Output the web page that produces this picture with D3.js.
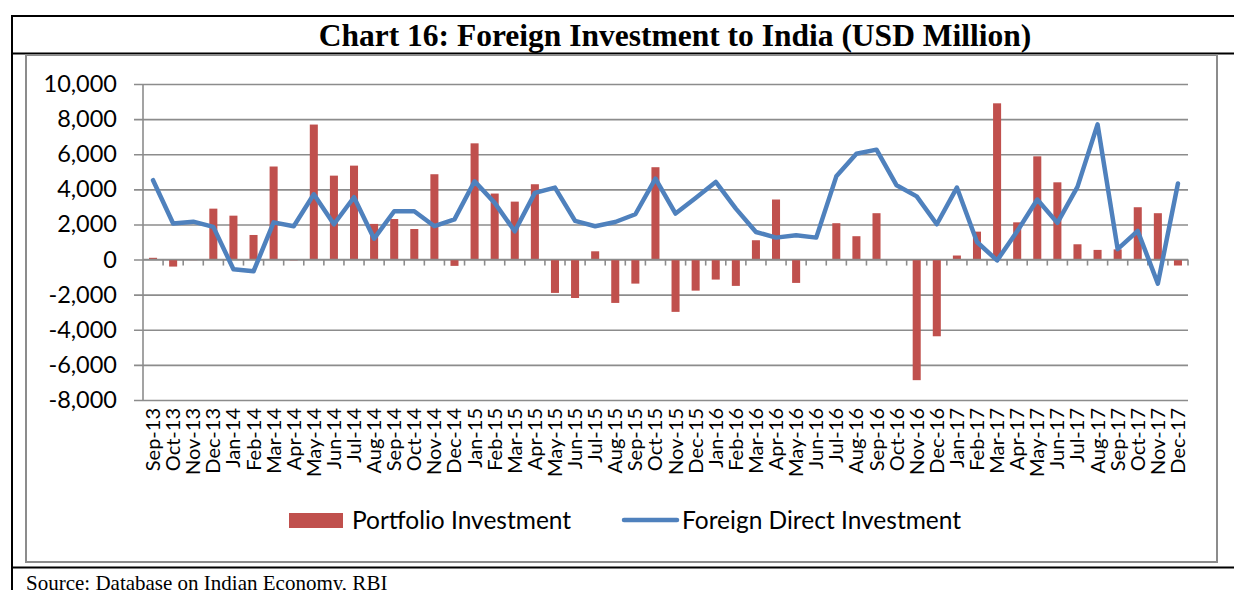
<!DOCTYPE html>
<html>
<head>
<meta charset="utf-8">
<script src="https://cdn.jsdelivr.net/npm/d3@7"></script>
<style>
  body { margin: 0; background: #fff; }
  svg { display: block; }
</style>
</head>
<body>
<div id="chart"></div>
<script>
var svgWidth = 1234;
var svgHeight = 590;

var months = [
  "Sep-13","Oct-13","Nov-13","Dec-13","Jan-14","Feb-14","Mar-14","Apr-14","May-14","Jun-14",
  "Jul-14","Aug-14","Sep-14","Oct-14","Nov-14","Dec-14","Jan-15","Feb-15","Mar-15","Apr-15",
  "May-15","Jun-15","Jul-15","Aug-15","Sep-15","Oct-15","Nov-15","Dec-15","Jan-16","Feb-16",
  "Mar-16","Apr-16","May-16","Jun-16","Jul-16","Aug-16","Sep-16","Oct-16","Nov-16","Dec-16",
  "Jan-17","Feb-17","Mar-17","Apr-17","May-17","Jun-17","Jul-17","Aug-17","Sep-17","Oct-17",
  "Nov-17","Dec-17"
];

// Portfolio Investment (bars)
var portfolio = [
  100, -400, -30, 2900, 2500, 1400, 5300, -40, 7690, 4780,
  5350, 2030, 2310, 1740, 4860, -360, 6620, 3760, 3300, 4290,
  -1900, -2190, 470, -2470, -1370, 5260, -2980, -1770, -1140, -1500,
  1100, 3420, -1330, 0, 2070, 1330, 2640, 0, -6870, -4370,
  230, 1590, 8900, 2120, 5880, 4400, 870, 550, 580, 2980,
  2640, -340
];

// Foreign Direct Investment (line)
var fdi = [
  4520, 2050, 2160, 1860, -550, -670, 2120, 1900, 3720, 2010,
  3550, 1190, 2750, 2750, 1900, 2290, 4460, 3230, 1610, 3800,
  4100, 2200, 1900, 2140, 2580, 4610, 2620, 3510, 4420, 2900,
  1570, 1250, 1380, 1250, 4740, 6030, 6260, 4230, 3600, 2010,
  4100, 1000, -50, 1610, 3420, 2090, 4140, 7700, 590, 1630,
  -1370, 4330
];

var yTicks = [-8000, -6000, -4000, -2000, 0, 2000, 4000, 6000, 8000, 10000];

var seriesNames = ["Portfolio Investment", "Foreign Direct Investment"];
var barColor = "#c0504d";
var lineColor = "#4f81bd";
var gridColor = "#8c8c8c";

var plot = { left: 143, right: 1188, top: 84, bottom: 400 };

var svg = d3.select("#chart")
  .append("svg")
  .attr("width", svgWidth)
  .attr("height", svgHeight);

// page frame (black lines of the table cell)
var frame = svg.append("g")
  .attr("stroke", "#000")
  .attr("stroke-width", 2);
frame.append("line").attr("x1", 12).attr("x2", svgWidth).attr("y1", 16).attr("y2", 16);
frame.append("line").attr("x1", 12).attr("x2", svgWidth).attr("y1", 53.5).attr("y2", 53.5);
frame.append("line").attr("x1", 12).attr("x2", svgWidth).attr("y1", 567.5).attr("y2", 567.5);
frame.append("line").attr("x1", 12).attr("x2", 12).attr("y1", 15).attr("y2", svgHeight);

svg.append("text")
  .attr("x", 675)
  .attr("y", 46)
  .attr("text-anchor", "middle")
  .style("font-family", "'Liberation Serif', 'Times New Roman', serif")
  .style("font-weight", "bold")
  .style("font-size", "31.5px")
  .text("Chart 16: Foreign Investment to India (USD Million)");

svg.append("text")
  .attr("x", 26)
  .attr("y", 590)
  .style("font-family", "'Liberation Serif', 'Times New Roman', serif")
  .style("font-size", "21px")
  .text("Source: Database on Indian Economy, RBI");

// chart area box
svg.append("rect")
  .attr("x", 26)
  .attr("y", 55)
  .attr("width", 1191)
  .attr("height", 507)
  .attr("fill", "#fff")
  .attr("stroke", gridColor)
  .attr("stroke-width", 2);

var xScale = d3.scaleBand()
  .domain(months)
  .range([plot.left, plot.right])
  .padding(0);

var yScale = d3.scaleLinear()
  .domain([-8000, 10000])
  .range([plot.bottom, plot.top]);

var fmt = d3.format(",");

// gridlines + y axis
var leftAxis = d3.axisLeft(yScale)
  .tickValues(yTicks)
  .tickSize(-(plot.right - plot.left) - 9)
  .tickPadding(17)
  .tickFormat(d => fmt(d).replace("\u2212", "-"));

var yAxis = svg.append("g")
  .attr("transform", `translate(${plot.left - 9}, 0)`)
  .call(leftAxis);

yAxis.select(".domain").remove();
yAxis.selectAll(".tick line")
  .attr("stroke", gridColor)
  .attr("stroke-width", 1.6);
yAxis.selectAll(".tick text")
  .style("font-family", "Lato, 'Open Sans', sans-serif")
  .style("font-size", "23.5px")
  .attr("fill", "#000");

svg.append("line")
  .attr("x1", plot.left).attr("x2", plot.left)
  .attr("y1", plot.top).attr("y2", plot.bottom)
  .attr("stroke", gridColor)
  .attr("stroke-width", 1.6);

// bars
var barW = xScale.bandwidth() * 0.4;
svg.append("g")
  .selectAll("rect")
  .data(portfolio)
  .enter()
  .append("rect")
  .attr("x", (d, i) => xScale(months[i]) + (xScale.bandwidth() - barW) / 2)
  .attr("y", d => yScale(Math.max(0, d)))
  .attr("width", barW)
  .attr("height", d => Math.abs(yScale(d) - yScale(0)))
  .attr("fill", barColor);

// x axis at zero with tick marks at category boundaries
var zeroY = yScale(0);
svg.append("line")
  .attr("x1", plot.left).attr("x2", plot.right)
  .attr("y1", zeroY).attr("y2", zeroY)
  .attr("stroke", gridColor)
  .attr("stroke-width", 1.6);

svg.append("g")
  .selectAll("line")
  .data(months.slice(1).concat(["end"]))
  .enter()
  .append("line")
  .attr("x1", (d, i) => plot.left + (i + 1) * xScale.step())
  .attr("x2", (d, i) => plot.left + (i + 1) * xScale.step())
  .attr("y1", zeroY)
  .attr("y2", zeroY + 6)
  .attr("stroke", gridColor)
  .attr("stroke-width", 1.6);

// FDI line
var line = d3.line()
  .x((d, i) => xScale(months[i]) + xScale.bandwidth() / 2)
  .y(d => yScale(d));

svg.append("path")
  .datum(fdi)
  .attr("d", line)
  .attr("fill", "none")
  .attr("stroke", lineColor)
  .attr("stroke-width", 4.5)
  .attr("stroke-linejoin", "round")
  .attr("stroke-linecap", "round");

// month labels
svg.append("g")
  .selectAll("text")
  .data(months)
  .enter()
  .append("text")
  .attr("transform", d => `translate(${xScale(d) + xScale.bandwidth() / 2}, 408) rotate(-90)`)
  .attr("dy", "0.35em")
  .attr("text-anchor", "end")
  .style("font-family", "Lato, 'Open Sans', sans-serif")
  .style("font-size", "20px")
  .text(d => d);

// legend
var legend = svg.append("g")
  .style("font-family", "Lato, 'Open Sans', sans-serif")
  .style("font-size", "24.5px");

legend.append("rect")
  .attr("x", 289).attr("y", 513)
  .attr("width", 54).attr("height", 15)
  .attr("fill", barColor);
legend.append("text")
  .attr("x", 352).attr("y", 529)
  .text(seriesNames[0]);

legend.append("line")
  .attr("x1", 624).attr("x2", 677)
  .attr("y1", 520).attr("y2", 520)
  .attr("stroke", lineColor)
  .attr("stroke-width", 4.5)
  .attr("stroke-linecap", "round");
legend.append("text")
  .attr("x", 682).attr("y", 529)
  .text(seriesNames[1]);
</script>
</body>
</html>
